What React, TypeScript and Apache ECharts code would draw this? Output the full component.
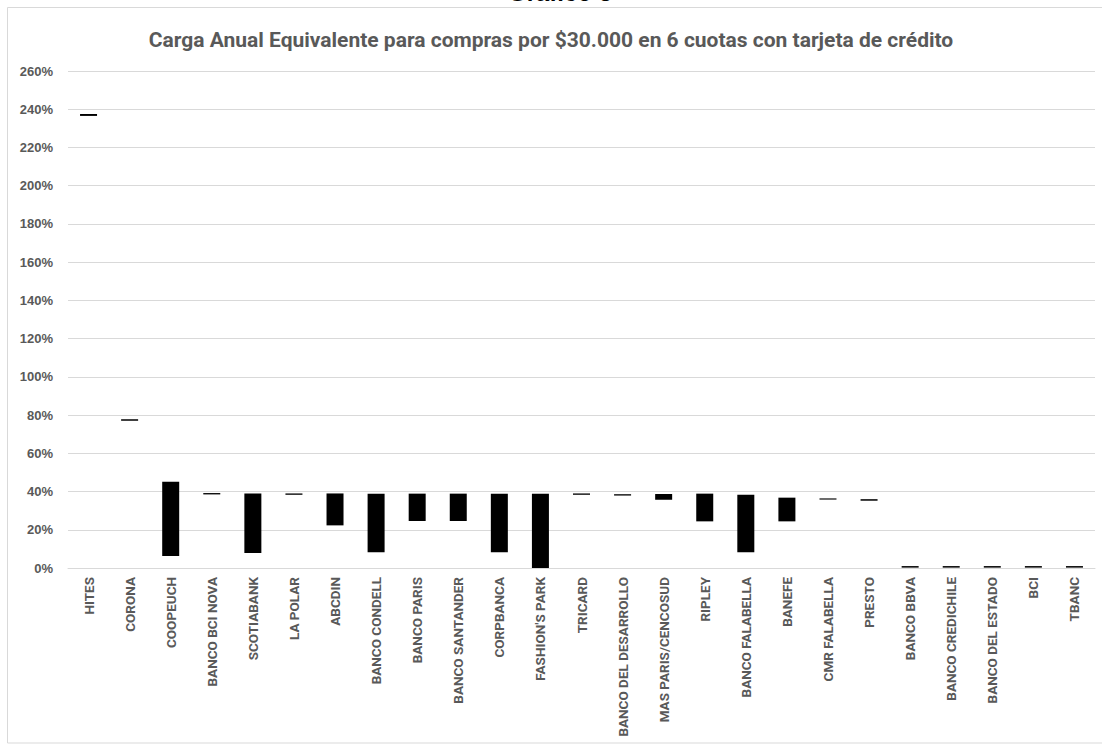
import React, { useEffect, useRef } from "react";
import * as echarts from "echarts";

const categories = [
  "HITES", "CORONA", "COOPEUCH", "BANCO BCI NOVA", "SCOTIABANK", "LA POLAR", "ABCDIN",
  "BANCO CONDELL", "BANCO PARIS", "BANCO SANTANDER", "CORPBANCA", "FASHION'S PARK",
  "TRICARD", "BANCO DEL DESARROLLO", "MAS PARIS/CENCOSUD", "RIPLEY", "BANCO FALABELLA",
  "BANEFE", "CMR FALABELLA", "PRESTO", "BANCO BBVA", "BANCO CREDICHILE",
  "BANCO DEL ESTADO", "BCI", "TBANC",
];

// CAE range per issuer (%): minimum and maximum
const minValues = [
  236.5, 77.0, 6.3, 38.5, 7.8, 38.3, 22.3, 8.2, 24.6, 24.6, 8.2, 0.0,
  38.3, 37.9, 35.7, 24.4, 8.2, 24.4, 35.8, 35.2, 0.2, 0.2, 0.2, 0.2, 0.2,
];
const maxValues = [
  237.5, 77.8, 45.1, 39.2, 39.0, 39.0, 39.0, 38.9, 38.9, 38.9, 38.9, 38.9,
  39.0, 38.6, 38.7, 38.9, 38.3, 36.8, 36.4, 36.0, 1.0, 1.0, 1.0, 1.0, 1.0,
];

const yTicks = { min: 0, max: 260, interval: 20 };

const TITLE = "Carga Anual Equivalente para compras por $30.000 en 6 cuotas con tarjeta de crédito";
const NARROW = 'Roboto, "Liberation Sans Narrow", "DejaVu Sans Condensed", sans-serif';
const SANS = '"Liberation Sans", Arial, sans-serif';

export default function App() {
  const ref = useRef<HTMLDivElement>(null);

  useEffect(() => {
    if (!ref.current) return;
    const chart = echarts.init(ref.current, undefined, { renderer: "svg" });
    const ranges = maxValues.map((v, i) => +(v - minValues[i]).toFixed(2));
    chart.setOption({
      animation: false,
      backgroundColor: "#ffffff",
      graphic: [
        {
          type: "rect",
          shape: { x: 7.5, y: 7.5, width: 1110, height: 735.5 },
          style: { fill: "none", stroke: "#d9d9d9", lineWidth: 1 },
          silent: true,
        },
        {
          type: "text",
          x: 560,
          y: 4,
          style: {
            text: "Gráfico 3",
            fill: "#000000",
            font: `bold 24px ${SANS}`,
            textAlign: "center",
            textVerticalAlign: "bottom",
          },
        },
      ],
      title: {
        text: TITLE,
        left: "center",
        top: 24,
        textStyle: {
          color: "#595959",
          fontWeight: "bold",
          fontSize: 21,
          fontFamily: NARROW,
        },
      },
      grid: { left: 68, right: 7, top: 71, bottom: 176, outerBoundsMode: "none", containLabel: false },
      xAxis: {
        type: "category",
        data: categories,
        axisLine: { lineStyle: { color: "#d9d9d9" } },
        axisTick: { show: false },
        axisLabel: {
          rotate: 90,
          interval: 0,
          margin: 9,
          color: "#595959",
          fontWeight: "bold",
          fontSize: 13.5,
          fontFamily: NARROW,
        },
      },
      yAxis: {
        type: "value",
        min: yTicks.min,
        max: yTicks.max,
        interval: yTicks.interval,
        axisLine: { show: false },
        axisTick: { show: false },
        splitLine: { lineStyle: { color: "#d9d9d9", width: 1 } },
        axisLabel: {
          formatter: "{value}%",
          margin: 15,
          color: "#595959",
          fontWeight: "bold",
          fontSize: 13,
          fontFamily: SANS,
        },
      },
      series: [
        {
          name: "base",
          type: "bar",
          stack: "cae",
          barWidth: 17,
          data: minValues,
          itemStyle: { color: "transparent" },
          silent: true,
        },
        {
          name: "CAE",
          type: "bar",
          stack: "cae",
          barWidth: 17,
          data: ranges,
          itemStyle: { color: "#000000" },
        },
      ],
    });
    return () => chart.dispose();
  }, []);

  return (
    <div
      ref={ref}
      style={{ position: "fixed", left: 0, top: 0, width: 1102, height: 744 }}
    />
  );
}
